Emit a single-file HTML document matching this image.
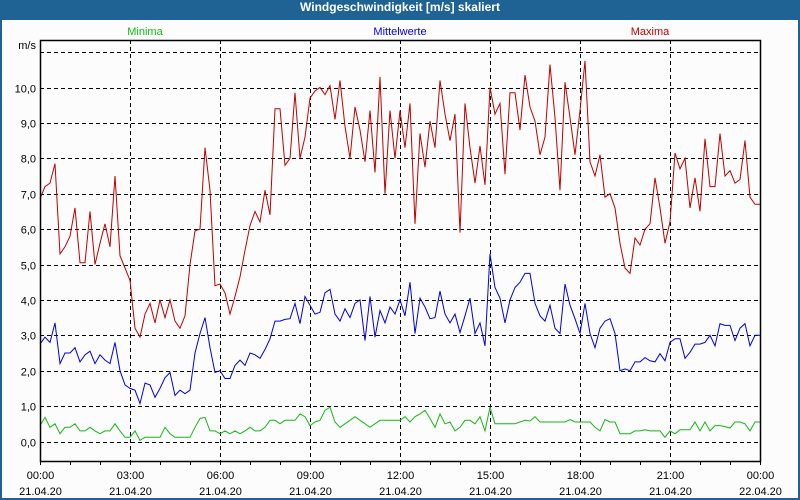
<!DOCTYPE html>
<html><head><meta charset="utf-8"><style>
html,body{margin:0;padding:0;background:#fff;}
#wrap{position:relative;width:800px;height:500px;background:#1f6394;overflow:hidden;}
#inner{position:absolute;left:2px;top:20px;width:796px;height:478px;background:#fbfcfb;}
#title{position:absolute;left:0;top:0;width:800px;height:20px;line-height:19px;text-align:center;color:#fff;font:bold 12px "Liberation Sans",sans-serif;}
svg{position:absolute;left:0;top:0;}
text{font-family:"Liberation Sans",sans-serif;font-size:11px;}
</style></head><body>
<div id="wrap">
<div id="inner"></div>
<div id="title">Windgeschwindigkeit [m/s] skaliert</div>
<svg id="chart" width="800" height="500"></svg>
</div>
<script>
const yTicks=[0,1,2,3,4,5,6,7,8,9,10,11];
const xTickLabels=["00:00","03:00","06:00","09:00","12:00","15:00","18:00","21:00","00:00"];
const xDateLabels=["21.04.20","21.04.20","21.04.20","21.04.20","21.04.20","21.04.20","21.04.20","21.04.20","22.04.20"];
const maxima=[6.86,7.2,7.3,7.85,5.3,5.5,5.8,6.6,5.05,5.05,6.5,5.0,5.6,6.15,5.5,7.5,5.25,4.9,4.55,3.2,2.95,3.6,3.9,3.35,4.0,3.5,4.0,3.4,3.2,3.55,5.0,5.95,6.0,8.3,7.1,4.4,4.45,4.2,3.6,4.1,4.65,5.4,6.1,6.5,6.2,7.1,6.4,9.4,9.4,7.8,8.0,9.85,8.0,8.6,9.7,9.9,10.0,9.8,10.05,9.1,10.2,8.9,8.0,9.45,8.8,7.9,9.35,7.6,10.3,7.0,9.35,8.0,9.35,8.3,9.55,6.15,8.7,7.75,9.05,8.3,10.2,9.25,8.5,9.25,5.9,9.55,8.3,7.3,8.35,7.25,10.0,9.25,9.55,7.55,9.85,9.85,8.8,10.35,9.45,9.05,8.1,8.6,10.65,9.15,7.1,10.15,9.15,8.1,9.35,10.75,7.9,7.5,8.1,6.9,7.0,6.6,5.6,4.9,4.75,5.75,5.55,6.0,6.15,7.45,6.6,5.6,6.2,8.15,7.7,8.0,6.6,7.45,6.5,8.55,7.2,7.2,8.7,7.5,7.65,7.3,7.4,8.5,6.9,6.7,6.7];
const mittel=[2.75,2.95,2.8,3.35,2.2,2.5,2.5,2.65,2.25,2.45,2.55,2.2,2.45,2.3,2.2,2.8,2.0,1.6,1.5,1.45,1.07,1.65,1.6,1.25,1.5,1.8,1.95,1.3,1.45,1.35,1.45,2.5,3.05,3.5,2.65,1.95,2.0,1.78,1.78,2.15,2.3,2.15,2.5,2.45,2.35,2.6,2.9,3.4,3.4,3.45,3.47,3.9,3.33,4.1,3.85,3.6,3.65,4.2,4.3,3.6,3.4,3.75,3.5,3.9,4.0,2.85,4.1,2.95,3.7,3.35,3.8,3.6,4.0,3.55,4.5,3.05,4.05,3.8,3.47,3.5,4.25,3.6,3.35,3.6,3.08,3.55,4.05,3.05,3.35,2.7,5.3,4.35,4.05,3.35,4.0,4.35,4.5,4.75,4.75,3.9,3.55,3.4,3.85,3.2,3.05,4.45,3.85,3.47,3.05,3.9,3.05,2.65,3.2,3.4,3.47,3.05,2.0,2.05,2.0,2.25,2.25,2.37,2.28,2.25,2.48,2.28,2.8,2.9,2.9,2.35,2.52,2.75,2.75,2.8,3.0,2.7,3.33,3.28,3.28,2.85,3.2,3.33,2.7,3.0,3.0];
const minima=[0.45,0.68,0.4,0.5,0.22,0.4,0.4,0.5,0.3,0.3,0.4,0.3,0.22,0.3,0.3,0.5,0.3,0.12,0.12,0.3,0.03,0.12,0.12,0.12,0.12,0.4,0.22,0.12,0.12,0.12,0.12,0.4,0.65,0.68,0.3,0.3,0.22,0.3,0.22,0.3,0.22,0.3,0.4,0.3,0.3,0.4,0.6,0.6,0.5,0.6,0.6,0.6,0.78,0.7,0.45,0.55,0.6,0.88,0.97,0.55,0.4,0.5,0.6,0.7,0.6,0.5,0.4,0.5,0.6,0.6,0.6,0.6,0.6,0.7,0.55,0.7,0.78,0.88,0.65,0.4,0.78,0.5,0.55,0.3,0.4,0.6,0.6,0.5,0.7,0.3,0.97,0.5,0.5,0.5,0.5,0.5,0.55,0.6,0.58,0.7,0.55,0.55,0.55,0.55,0.55,0.55,0.62,0.55,0.55,0.55,0.55,0.4,0.3,0.62,0.55,0.55,0.22,0.22,0.22,0.3,0.3,0.33,0.3,0.3,0.3,0.12,0.3,0.22,0.33,0.33,0.33,0.55,0.3,0.55,0.3,0.45,0.45,0.42,0.38,0.55,0.55,0.5,0.3,0.55,0.55];
const seriesNames=["Minima","Mittelwerte","Maxima"];
const seriesColors=["#14b814","#0000e6","#c00000"];

const L=40,R=760,T=40,B=461,Y0=441.5,PXU=35.4;
const svg=document.getElementById('chart');
const NS='http://www.w3.org/2000/svg';
function yS(v){return Y0-v*PXU;}
function xS(h){return L+(R-L)*h/24;}
function mk(tag,attrs){const e=document.createElementNS(NS,tag);for(const k in attrs)e.setAttribute(k,attrs[k]);svg.appendChild(e);return e;}

// horizontal grid + y labels
yTicks.forEach(v=>{
  const y=Math.round(yS(v))+0.5;
  const g=mk('line',{x1:L,x2:R,y1:y,y2:y,stroke:'#000','stroke-dasharray':'4,3','stroke-width':1});
  
  
  if(v<=10){
    const t=mk('text',{x:36,y:y+4,'text-anchor':'end',fill:'#000'});
    t.textContent=v.toFixed(1).replace('.',',');
    
    
  }
});
const unit=mk('text',{x:36,y:49,'text-anchor':'end',fill:'#000'});
unit.textContent='m/s';



// vertical grid + x labels
xTickLabels.forEach((lab,i)=>{
  const x=Math.round(xS(i*3))+0.5;
  if(i>0&&i<xTickLabels.length-1){
    const g=mk('line',{x1:x,x2:x,y1:T,y2:B,stroke:'#000','stroke-dasharray':'4,3'});
    
    
  }
  const t=mk('text',{x:x,y:479,'text-anchor':'middle',fill:'#000'});
  t.textContent=lab;
  
  
  const d=mk('text',{x:x,y:495,'text-anchor':'middle',fill:'#000'});
  d.textContent=xDateLabels[i];
  
  
});
for(let h=0;h<=24;h++){
  const x=Math.round(xS(h))+0.5;
  const tk=mk('line',{x1:x,x2:x,y1:B,y2:B+4,stroke:'#000'});
  
  
}

// series
[minima,mittel,maxima].forEach((arr,s)=>{
  const n=arr.length;
  const pts=arr.map((v,i)=>xS(24*i/(n-1)).toFixed(1)+','+yS(v).toFixed(1)).join(' ');
  const p=mk('polyline',{points:pts,fill:'none',stroke:seriesColors[s],'stroke-width':1});
  
  
});

// axes box
const ax=mk('rect',{x:L+0.5,y:T+0.5,width:R-L,height:B-T,fill:'none',stroke:'#000','stroke-width':1.5});



// legend
const legX=[145,400,650];
seriesNames.forEach((nm,s)=>{
  const t=mk('text',{x:legX[s],y:35,'text-anchor':'middle',fill:seriesColors[s]});
  t.textContent=nm;
  
  
});
</script>
</body></html>
